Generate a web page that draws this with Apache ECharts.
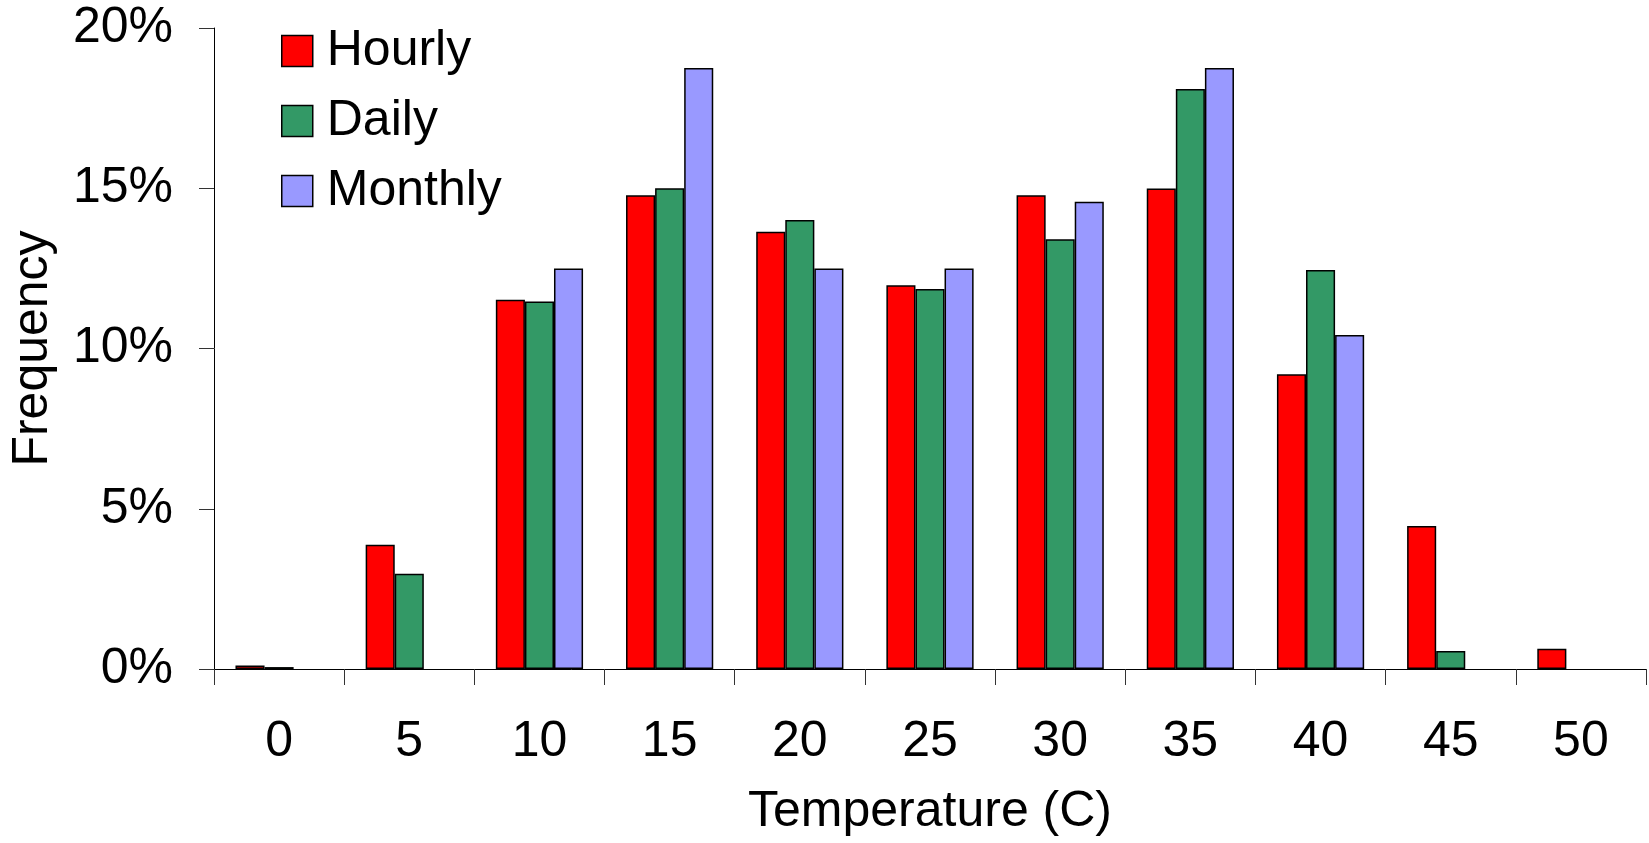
<!DOCTYPE html>
<html>
<head>
<meta charset="utf-8">
<title>Temperature frequency</title>
<script src="https://cdn.jsdelivr.net/npm/echarts@6/dist/echarts.min.js"></script>
<style>
  html, body { margin: 0; padding: 0; background: #ffffff; }
  #chart { width: 1649px; height: 843px; }
</style>
</head>
<body>
<div id="chart"></div>
<script>
// Temperature bins (C)
const categories = ['0', '5', '10', '15', '20', '25', '30', '35', '40', '45', '50'];

// Share of observations in each bin, percent
const hourly  = [0.11, 3.88, 11.52, 14.78, 13.64, 11.97, 14.78, 14.99, 9.20, 4.46, 0.63];
const daily   = [0.06, 2.97, 11.47, 15.00, 14.01, 11.86, 13.41, 18.10, 12.45, 0.56, null];
const monthly = [null, null, 12.50, 18.75, 12.50, 12.50, 14.58, 18.75, 10.42, null, null];

const seriesNames = ['Hourly', 'Daily', 'Monthly'];
const seriesColors = ['#ff0000', '#339966', '#9999ff'];

const FONT = '"Liberation Sans", Arial, Helvetica, sans-serif';
const chart = echarts.init(document.getElementById('chart'), null, { renderer: 'canvas' });

const barStyle = (color) => ({ color: color, borderColor: '#000000', borderWidth: 1.5 });

chart.setOption({
  animation: false,
  backgroundColor: '#ffffff',
  textStyle: { fontFamily: FONT, color: '#000000' },
  grid: { left: 214, right: 3, top: 28, bottom: 174, containLabel: false },
  legend: {
    orient: 'vertical',
    left: 281,
    top: 26,
    padding: 0,
    itemWidth: 31,
    itemHeight: 31,
    itemGap: 20,
    icon: 'rect',
    selectedMode: false,
    itemStyle: { borderColor: '#000000', borderWidth: 1.5 },
    textStyle: { fontFamily: FONT, fontSize: 50, color: '#000000', padding: [0, 0, 0, 9] },
    data: seriesNames
  },
  xAxis: {
    type: 'category',
    data: categories,
    name: 'Temperature (C)',
    nameLocation: 'middle',
    nameGap: 118,
    nameTextStyle: { fontFamily: FONT, fontSize: 50, color: '#000000' },
    axisLine: { show: true, lineStyle: { color: '#000000', width: 1 } },
    axisTick: { show: true, length: 16, interval: 0, lineStyle: { color: '#333333', width: 1 } },
    axisLabel: { interval: 0, margin: 48, fontFamily: FONT, fontSize: 50, color: '#000000' },
    splitLine: { show: false }
  },
  yAxis: {
    type: 'value',
    min: 0,
    max: 20,
    interval: 5,
    name: 'Frequency',
    nameLocation: 'middle',
    nameRotate: 90,
    nameGap: 156,
    nameTextStyle: { fontFamily: FONT, fontSize: 50, color: '#000000' },
    axisLine: { show: true, lineStyle: { color: '#000000', width: 1 } },
    axisTick: { show: true, inside: false, length: 15, lineStyle: { color: '#333333', width: 1 } },
    axisLabel: { margin: 41, fontFamily: FONT, fontSize: 50, color: '#000000', formatter: '{value}%' },
    splitLine: { show: false }
  },
  series: [
    { name: seriesNames[0], type: 'bar', data: hourly,  barGap: '0%', barCategoryGap: '33%', itemStyle: barStyle(seriesColors[0]) },
    { name: seriesNames[1], type: 'bar', data: daily,   barGap: '0%', barCategoryGap: '33%', itemStyle: barStyle(seriesColors[1]) },
    { name: seriesNames[2], type: 'bar', data: monthly, barGap: '0%', barCategoryGap: '33%', itemStyle: barStyle(seriesColors[2]) }
  ]
});
</script>
</body>
</html>
